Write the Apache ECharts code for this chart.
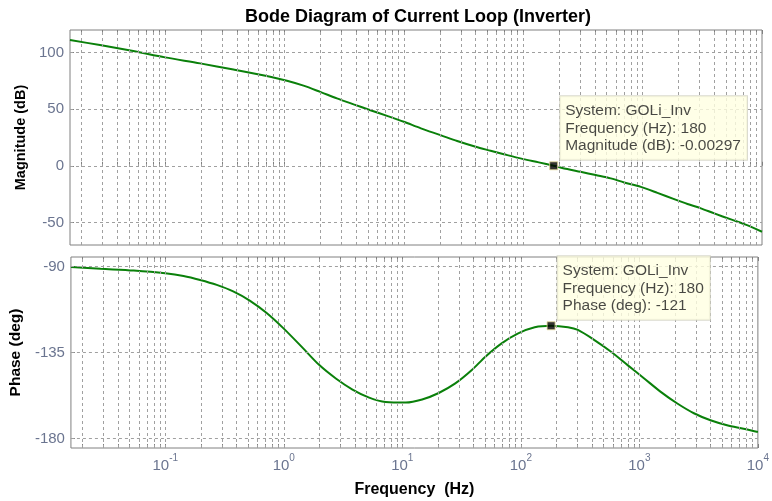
<!DOCTYPE html>
<html><head><meta charset="utf-8">
<script src="https://cdn.jsdelivr.net/npm/echarts@6/dist/echarts.min.js"></script>
<style>html,body{margin:0;padding:0;background:#fff}#c{width:772px;height:501px}</style>
</head><body><div id="c"></div>
<script>
// ---- data ----
const magFreq = [0.016, 0.0285, 0.0542, 0.1, 0.197, 0.374, 0.76, 1.05, 1.445, 1.995, 2.75, 3.8, 5.25, 7.24, 10, 13.9, 20.3, 28, 40, 53.3, 68.9, 100, 135, 180, 234, 302, 405, 541, 700, 966, 1331, 1837, 2377, 3076, 3983, 5495, 7583, 10000];
const magnitude = [111.1, 106.7, 101.4, 95.8, 90.5, 85.0, 78.6, 75.1, 70.8, 65.3, 59.6, 54.3, 49.1, 44.1, 38.9, 33.1, 27.1, 21.9, 16.8, 13.3, 10.2, 5.9, 3.0, -0.00297, -2.9, -5.3, -8.2, -11.1, -14.7, -18.6, -23.9, -29.5, -33.8, -37.6, -42.1, -47.4, -52.7, -58.3];
const phaseFreq = [0.016, 0.0285, 0.0542, 0.1, 0.1426, 0.197, 0.272, 0.374, 0.516, 0.713, 1.0, 1.445, 1.995, 2.75, 3.8, 5.25, 7.24, 10.7, 14.7, 20.3, 28, 38.6, 50, 68.9, 95, 131, 180, 250, 303, 418, 577, 796, 1099, 1515, 2091, 2886, 3983, 5495, 7583, 10000];
const phase = [-90.3, -91.2, -92.1, -93.5, -94.9, -97.0, -99.6, -103.0, -107.8, -114.2, -122.5, -132.6, -141.6, -148.6, -154.4, -158.6, -160.9, -161.2, -159.6, -156.2, -151.2, -144.2, -137.3, -130.2, -125.0, -121.8, -121.0, -121.8, -123.2, -128.5, -134.6, -141.6, -148.6, -155.6, -161.7, -166.8, -170.5, -173.1, -174.9, -176.6];
const xTickValues = [0.1, 1, 10, 100, 1000, 10000];
const magTicks = [-50, 0, 50, 100];
const phaseTicks = [-180, -135, -90];
const systemName = 'GOLi_Inv';
const markerFreq = 180;
const markerMag = -0.00297;
const markerPhase = -121;

const titleText = 'Bode Diagram of Current Loop (Inverter)';
const FONT = "'Liberation Sans', Arial, sans-serif";
const LABEL_COLOR = '#6b7590';
const GRID_COLOR = '#a0a0a0';
const BOX_COLOR = '#808080';
const X_MIN = 0.016, X_MAX = 10000;

// grid line positions (decade multiples)
const gridX = [];
for (let k = -2; k <= 3; k++) {
  for (let m = 1; m <= 9; m++) {
    const v = +(m * Math.pow(10, k)).toPrecision(6);
    if (v > X_MIN && v < X_MAX) gridX.push(v);
  }
}

const chart = echarts.init(document.getElementById('c'), null, {renderer: 'canvas'});

function xAxisDef(gridIndex, showLabels, position) {
  return {
    type: 'log', logBase: 10, gridIndex: gridIndex, min: X_MIN, max: X_MAX,
    position: position,
    axisLine: {show: false},
    splitLine: {show: false},
    axisTick: {show: true, inside: true, length: 4, customValues: gridX.concat(xTickValues),
      lineStyle: {color: BOX_COLOR}},
    axisLabel: showLabels ? {
      show: true, margin: 5, customValues: xTickValues,
      formatter: function (v) { return '{b|10}{s|' + Math.round(Math.log10(v)) + '}'; },
      rich: {
        b: {fontSize: 15, fontFamily: FONT, color: LABEL_COLOR, lineHeight: 16, padding: [10, 0, 0, 0]},
        s: {fontSize: 10, fontFamily: FONT, color: LABEL_COLOR, lineHeight: 10, verticalAlign: 'top'}
      }
    } : {show: false}
  };
}

function gridLines(xIdx, yIdx, yVals) {
  return {
    type: 'line', xAxisIndex: xIdx, yAxisIndex: yIdx, data: [], z: 1, silent: true,
    markLine: {
      silent: true, symbol: ['none', 'none'], animation: false,
      label: {show: false},
      lineStyle: {color: GRID_COLOR, type: [3, 3], width: 1},
      data: gridX.map(v => ({xAxis: v})).concat(yVals.map(v => ({yAxis: v})))
    }
  };
}

function markerSeries(xIdx, yIdx, yVal, lines) {
  return {
    type: 'scatter', xAxisIndex: xIdx, yAxisIndex: yIdx, z: 5,
    data: [[markerFreq, yVal]],
    symbol: 'rect', symbolSize: 8,
    itemStyle: {color: '#000', borderColor: '#e6dc9a', borderWidth: 1},
    label: {
      show: true, position: [11, -65], align: 'left', verticalAlign: 'top',
      formatter: lines.join('\n'),
      fontFamily: FONT, fontSize: 15.5, lineHeight: 17.5, color: '#1a1a1a',
      backgroundColor: '#ffffe1', borderColor: '#d0d0c0', borderWidth: 1,
      padding: [6, 6, 5, 5]
    }
  };
}

const option = {
  animation: false,
  backgroundColor: '#ffffff',
  title: {
    text: titleText, left: 413, top: 3, textAlign: 'center',
    textStyle: {fontFamily: FONT, fontSize: 18, fontWeight: 'bold', color: '#000'}
  },
  grid: [
    {left: 70, right: 10, top: 30, height: 215, show: true, borderColor: BOX_COLOR, borderWidth: 1, backgroundColor: 'transparent'},
    {left: 70, right: 10, top: 257, height: 191, show: true, borderColor: BOX_COLOR, borderWidth: 1, backgroundColor: 'transparent'}
  ],
  xAxis: [
    xAxisDef(0, false, 'bottom'),
    Object.assign(xAxisDef(1, true, 'bottom'), {
      name: 'Frequency  (Hz)', nameLocation: 'middle', nameGap: 34,
      nameTextStyle: {fontFamily: FONT, fontSize: 16, fontWeight: 'bold', color: '#000'}
    }),
    xAxisDef(0, false, 'top'),
    xAxisDef(1, false, 'top')
  ],
  yAxis: [
    {
      type: 'value', gridIndex: 0, min: -70, max: 120,
      axisLine: {show: false}, splitLine: {show: false},
      axisTick: {show: true, inside: true, length: 4, customValues: magTicks, lineStyle: {color: BOX_COLOR}},
      axisLabel: {customValues: magTicks, fontFamily: FONT, fontSize: 15, color: LABEL_COLOR, margin: 6},
      name: 'Magnitude (dB)', nameLocation: 'middle', nameGap: 34,
      nameTextStyle: {fontFamily: FONT, fontSize: 14.5, fontWeight: 'bold', color: '#000'}
    },
    {
      type: 'value', gridIndex: 1, min: -185, max: -85,
      axisLine: {show: false}, splitLine: {show: false},
      axisTick: {show: true, inside: true, length: 4, customValues: phaseTicks, lineStyle: {color: BOX_COLOR}},
      axisLabel: {customValues: phaseTicks, fontFamily: FONT, fontSize: 15, color: LABEL_COLOR, margin: 6},
      name: 'Phase (deg)', nameLocation: 'middle', nameGap: 43,
      nameTextStyle: {fontFamily: FONT, fontSize: 15.5, fontWeight: 'bold', color: '#000'}
    }
  ],
  series: [
    gridLines(0, 0, magTicks),
    gridLines(1, 1, phaseTicks),
    {
      type: 'line', xAxisIndex: 0, yAxisIndex: 0, z: 3,
      data: magFreq.map((f, i) => [f, magnitude[i]]),
      showSymbol: false, smooth: 0.3,
      lineStyle: {color: '#0a800a', width: 2}
    },
    {
      type: 'line', xAxisIndex: 1, yAxisIndex: 1, z: 3,
      data: phaseFreq.map((f, i) => [f, phase[i]]),
      showSymbol: false, smooth: 0.3,
      lineStyle: {color: '#0a800a', width: 2}
    },
    markerSeries(0, 0, markerMag, ['System: ' + systemName, 'Frequency (Hz): ' + markerFreq, 'Magnitude (dB): ' + markerMag]),
    markerSeries(1, 1, markerPhase, ['System: ' + systemName, 'Frequency (Hz): ' + markerFreq, 'Phase (deg): ' + markerPhase])
  ]
};
chart.setOption(option);
</script>
</body></html>
